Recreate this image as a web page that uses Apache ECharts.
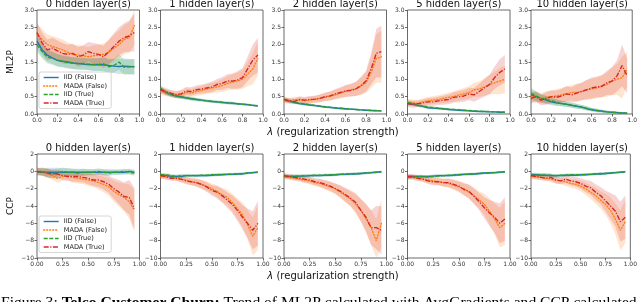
<!DOCTYPE html>
<html><head><meta charset="utf-8">
<script src="https://cdn.jsdelivr.net/npm/echarts@6/dist/echarts.min.js"></script>
<style>html,body{margin:0;padding:0;background:#fff}#c{width:640px;height:302px}</style>
</head><body><div id="c"></div><script>
// ---------- data ----------
const LAMBDA = [0,0.05,0.1,0.15,0.2,0.25,0.3,0.35,0.4,0.45,0.5,0.55,0.6,0.65,0.7,0.75,0.8,0.85,0.9,0.95];
const PANEL_TITLES = ['0 hidden layer(s)','1 hidden layer(s)','2 hidden layer(s)','5 hidden layer(s)','10 hidden layer(s)'];
const SERIES_NAMES = ['IID (False)','MADA (False)','IID (True)','MADA (True)'];
const ROW_LABELS = ['ML2P','CCP'];

// ML2P (top row), one array per panel
const ml2pIidFalse = [
 [2.10,1.85,1.70,1.62,1.55,1.52,1.50,1.47,1.46,1.44,1.43,1.42,1.43,1.42,1.40,1.38,1.37,1.38,1.37,1.36],
 [0.70,0.62,0.56,0.52,0.49,0.46,0.44,0.42,0.40,0.38,0.36,0.35,0.33,0.32,0.31,0.30,0.28,0.27,0.25,0.23],
 [0.40,0.37,0.33,0.30,0.28,0.26,0.24,0.22,0.20,0.19,0.17,0.16,0.15,0.14,0.13,0.12,0.11,0.10,0.09,0.09],
 [0.30,0.28,0.25,0.22,0.18,0.17,0.16,0.15,0.13,0.12,0.11,0.10,0.09,0.08,0.07,0.07,0.06,0.06,0.05,0.05],
 [0.55,0.50,0.45,0.40,0.35,0.32,0.30,0.28,0.25,0.22,0.20,0.16,0.12,0.10,0.08,0.06,0.05,0.04,0.03,0.02]];
const ml2pMadaFalse = [
 [2.30,2.15,2.00,1.95,1.90,1.85,1.78,1.72,1.70,1.68,1.65,1.68,1.70,1.72,1.78,1.90,2.00,2.15,2.20,2.55],
 [0.65,0.62,0.58,0.55,0.55,0.62,0.60,0.65,0.68,0.72,0.75,0.78,0.82,0.88,0.92,0.95,1.00,1.15,1.30,1.60],
 [0.40,0.38,0.42,0.40,0.38,0.40,0.42,0.45,0.48,0.52,0.55,0.60,0.65,0.70,0.72,0.80,0.90,1.20,1.60,1.65],
 [0.35,0.32,0.30,0.35,0.38,0.40,0.42,0.45,0.48,0.50,0.55,0.58,0.62,0.70,0.72,0.78,0.85,0.90,0.95,1.00],
 [0.50,0.48,0.45,0.48,0.50,0.52,0.55,0.58,0.62,0.62,0.65,0.70,0.72,0.75,0.80,0.85,0.95,1.00,1.05,1.30]];
const ml2pIidTrue = [
 [2.00,1.80,1.65,1.60,1.55,1.52,1.48,1.47,1.45,1.46,1.44,1.43,1.42,1.45,1.36,1.40,1.50,1.35,1.36,1.37],
 [0.75,0.63,0.57,0.53,0.50,0.47,0.44,0.42,0.40,0.38,0.37,0.35,0.34,0.32,0.31,0.29,0.28,0.27,0.25,0.24],
 [0.42,0.38,0.34,0.31,0.29,0.27,0.25,0.23,0.21,0.19,0.18,0.17,0.15,0.14,0.13,0.12,0.11,0.10,0.10,0.09],
 [0.33,0.30,0.26,0.22,0.20,0.18,0.17,0.15,0.14,0.13,0.12,0.11,0.10,0.09,0.08,0.07,0.07,0.06,0.06,0.05],
 [0.60,0.52,0.45,0.42,0.38,0.34,0.30,0.28,0.26,0.23,0.20,0.16,0.13,0.10,0.08,0.06,0.05,0.04,0.03,0.02]];
const ml2pMadaTrue = [
 [2.35,2.05,1.85,1.90,1.82,1.75,1.72,1.75,1.65,1.70,1.80,1.75,1.72,1.65,1.80,1.95,2.10,2.20,2.25,2.35],
 [0.70,0.65,0.60,0.56,0.58,0.66,0.65,0.70,0.72,0.75,0.78,0.85,0.88,0.95,0.95,0.98,1.05,1.30,1.55,1.70],
 [0.42,0.38,0.36,0.42,0.40,0.42,0.43,0.45,0.50,0.52,0.58,0.62,0.67,0.68,0.72,0.82,0.95,1.30,1.75,1.80],
 [0.30,0.28,0.30,0.32,0.35,0.35,0.38,0.40,0.42,0.48,0.50,0.52,0.58,0.55,0.65,0.75,0.85,1.05,1.20,1.30],
 [0.45,0.50,0.40,0.45,0.50,0.48,0.52,0.58,0.55,0.60,0.65,0.70,0.75,0.78,0.80,0.90,0.95,1.10,1.40,1.10]];
const ml2pIidStd = [
 [0.22,0.20,0.19,0.18,0.18,0.17,0.17,0.17,0.17,0.17,0.17,0.18,0.18,0.20,0.20,0.20,0.22,0.22,0.22,0.22],
 [0.08,0.07,0.06,0.06,0.05,0.05,0.05,0.05,0.04,0.04,0.04,0.04,0.04,0.04,0.04,0.03,0.03,0.03,0.03,0.03],
 [0.05,0.05,0.04,0.04,0.04,0.04,0.03,0.03,0.03,0.03,0.03,0.03,0.03,0.02,0.02,0.02,0.02,0.02,0.02,0.02],
 [0.06,0.05,0.05,0.04,0.04,0.04,0.03,0.03,0.03,0.03,0.03,0.03,0.02,0.02,0.02,0.02,0.02,0.02,0.02,0.02],
 [0.15,0.14,0.12,0.11,0.10,0.09,0.08,0.08,0.07,0.07,0.06,0.06,0.05,0.05,0.04,0.04,0.03,0.03,0.03,0.03]];
const ml2pMadaStd = [
 [0.30,0.30,0.30,0.30,0.30,0.30,0.28,0.28,0.28,0.28,0.28,0.30,0.30,0.32,0.35,0.38,0.40,0.42,0.45,0.55],
 [0.10,0.10,0.10,0.10,0.12,0.12,0.12,0.12,0.13,0.14,0.15,0.16,0.18,0.20,0.22,0.25,0.28,0.35,0.45,0.50],
 [0.08,0.08,0.08,0.09,0.09,0.10,0.10,0.11,0.12,0.13,0.14,0.15,0.17,0.18,0.20,0.25,0.30,0.45,0.70,0.75],
 [0.10,0.10,0.10,0.10,0.11,0.12,0.12,0.13,0.14,0.15,0.16,0.17,0.18,0.20,0.22,0.25,0.28,0.32,0.38,0.40],
 [0.15,0.15,0.15,0.18,0.18,0.20,0.20,0.22,0.22,0.25,0.25,0.28,0.30,0.30,0.32,0.35,0.40,0.45,0.60,0.50]];

// CCP (bottom row)
const ccpIidFalse = [
 [0.0,-0.1,-0.1,-0.1,-0.1,-0.1,-0.1,-0.1,-0.1,-0.1,-0.1,-0.1,-0.1,-0.1,-0.1,-0.1,-0.1,-0.1,0.0,-0.1],
 [-0.5,-0.5,-0.6,-0.6,-0.6,-0.5,-0.5,-0.5,-0.5,-0.5,-0.45,-0.4,-0.4,-0.35,-0.35,-0.3,-0.3,-0.2,-0.15,-0.1],
 [-0.6,-0.6,-0.6,-0.55,-0.55,-0.5,-0.5,-0.5,-0.45,-0.45,-0.4,-0.35,-0.35,-0.3,-0.3,-0.25,-0.2,-0.15,-0.1,-0.05],
 [-0.6,-0.6,-0.6,-0.6,-0.6,-0.55,-0.5,-0.5,-0.5,-0.45,-0.4,-0.35,-0.3,-0.3,-0.25,-0.2,-0.2,-0.15,-0.1,-0.05],
 [-0.4,-0.4,-0.45,-0.45,-0.5,-0.5,-0.5,-0.45,-0.45,-0.45,-0.4,-0.4,-0.35,-0.3,-0.3,-0.25,-0.2,-0.15,-0.1,-0.05]];
const ccpMadaFalse = [
 [0.0,0.0,-0.2,-0.5,-0.8,-0.6,-0.5,-0.7,-0.8,-0.9,-1.0,-1.1,-1.3,-1.5,-1.8,-2.3,-2.7,-3.0,-3.5,-4.5],
 [-0.6,-0.6,-0.7,-0.8,-0.9,-1.0,-1.2,-1.3,-1.5,-1.7,-2.0,-2.3,-2.7,-3.0,-3.6,-4.3,-5.0,-6.2,-7.5,-6.5],
 [-0.6,-0.7,-0.8,-0.9,-1.0,-1.1,-1.3,-1.4,-1.6,-1.8,-2.0,-2.4,-2.8,-3.2,-3.8,-4.5,-5.5,-6.5,-8.0,-6.0],
 [-0.7,-0.7,-0.8,-0.9,-1.0,-1.1,-1.2,-1.3,-1.4,-1.6,-1.8,-2.0,-2.4,-2.8,-3.3,-3.8,-4.6,-5.5,-6.5,-6.0],
 [-0.6,-0.6,-0.7,-0.8,-0.9,-1.0,-1.1,-1.2,-1.4,-1.5,-1.7,-2.0,-2.4,-2.8,-3.3,-3.8,-4.5,-5.5,-6.8,-5.8]];
const ccpIidTrue = [
 [-0.1,0.0,-0.2,-0.3,-0.2,0.0,-0.1,-0.1,-0.2,-0.1,-0.1,-0.1,0.0,-0.1,-0.2,-0.1,-0.1,0.0,-0.1,-0.2],
 [-0.4,-0.4,-0.5,-0.6,-0.5,-0.5,-0.5,-0.5,-0.45,-0.45,-0.4,-0.4,-0.35,-0.35,-0.3,-0.3,-0.25,-0.2,-0.15,-0.1],
 [-0.55,-0.6,-0.55,-0.55,-0.5,-0.5,-0.45,-0.45,-0.45,-0.4,-0.4,-0.35,-0.3,-0.3,-0.25,-0.25,-0.2,-0.15,-0.1,-0.05],
 [-0.7,-0.65,-0.6,-0.6,-0.65,-0.6,-0.55,-0.5,-0.45,-0.45,-0.4,-0.35,-0.35,-0.3,-0.25,-0.2,-0.15,-0.15,-0.1,-0.05],
 [-0.45,-0.45,-0.4,-0.45,-0.45,-0.5,-0.45,-0.45,-0.4,-0.4,-0.4,-0.35,-0.35,-0.3,-0.25,-0.25,-0.2,-0.15,-0.1,-0.05]];
const ccpMadaTrue = [
 [0.0,-0.1,-0.2,-0.3,-0.3,-0.5,-0.6,-0.6,-0.6,-0.7,-0.8,-1.0,-1.0,-1.2,-1.5,-2.0,-2.4,-2.9,-3.0,-4.3],
 [-0.5,-0.6,-0.8,-0.8,-0.9,-1.1,-1.2,-1.3,-1.5,-1.8,-2.2,-2.4,-2.8,-3.3,-3.8,-4.5,-5.3,-6.0,-6.8,-6.0],
 [-0.5,-0.6,-0.7,-0.8,-0.9,-1.0,-1.2,-1.3,-1.5,-1.7,-2.0,-2.3,-2.7,-3.1,-3.6,-4.5,-5.3,-6.5,-6.5,-6.8],
 [-0.6,-0.6,-0.8,-0.9,-1.1,-1.2,-1.2,-1.3,-1.3,-1.5,-1.7,-2.1,-2.3,-2.9,-3.5,-4.2,-4.8,-5.3,-6.0,-5.5],
 [-0.5,-0.6,-0.7,-0.8,-0.7,-1.0,-1.1,-0.9,-1.1,-1.2,-1.4,-1.7,-1.9,-2.4,-2.8,-3.4,-4.0,-4.6,-5.8,-5.3]];
const ccpIidStd = [
 [0.40,0.45,0.50,0.50,0.50,0.45,0.45,0.40,0.40,0.40,0.35,0.35,0.35,0.35,0.35,0.30,0.30,0.30,0.30,0.30],
 [0.20,0.20,0.20,0.20,0.20,0.18,0.18,0.18,0.18,0.16,0.16,0.16,0.15,0.15,0.15,0.14,0.14,0.13,0.12,0.12],
 [0.20,0.20,0.20,0.18,0.18,0.18,0.18,0.16,0.16,0.16,0.15,0.15,0.15,0.14,0.14,0.13,0.13,0.12,0.12,0.12],
 [0.20,0.20,0.20,0.18,0.18,0.18,0.18,0.16,0.16,0.16,0.15,0.15,0.15,0.14,0.14,0.13,0.13,0.12,0.12,0.12],
 [0.25,0.25,0.22,0.22,0.20,0.20,0.18,0.18,0.18,0.16,0.16,0.15,0.15,0.14,0.14,0.13,0.13,0.12,0.12,0.12]];
const ccpMadaStd = [
 [0.40,0.40,0.50,0.50,0.50,0.50,0.50,0.60,0.60,0.60,0.70,0.70,0.80,0.90,1.00,1.20,1.40,1.60,2.00,2.40],
 [0.30,0.30,0.30,0.30,0.35,0.40,0.40,0.45,0.50,0.55,0.60,0.70,0.80,0.90,1.00,1.20,1.40,1.70,2.20,2.60],
 [0.30,0.30,0.30,0.30,0.35,0.40,0.40,0.45,0.50,0.55,0.60,0.70,0.80,0.90,1.10,1.30,1.60,2.00,2.50,2.80],
 [0.30,0.30,0.30,0.30,0.35,0.40,0.40,0.45,0.50,0.55,0.60,0.70,0.80,0.90,1.00,1.20,1.50,1.80,2.30,2.50],
 [0.30,0.30,0.30,0.30,0.35,0.40,0.40,0.45,0.50,0.55,0.60,0.70,0.80,0.90,1.00,1.20,1.50,1.80,2.30,2.50]];

// ---------- layout / style ----------
const GRID_LEFT = [37, 160.5, 284, 407.5, 531];
const GRID_W = 102.5, GRID_H = 104;
const ROW_TOP = [10, 154];
const COLORS = ['#1f77b4','#ff7f0e','#2ca02c','#d62728'];
const BANDS = ['rgba(31,119,180,0.2)','rgba(255,127,14,0.2)','rgba(44,160,44,0.2)','rgba(214,39,40,0.2)'];
const DASH = ['solid',[1,2],[4,1.6],[5,1.5,1.2,1.5]];
const FONT = 'DejaVu Sans';

const rows = [
  {mean:[ml2pIidFalse, ml2pMadaFalse, ml2pIidTrue, ml2pMadaTrue], std:[ml2pIidStd, ml2pMadaStd, ml2pIidStd, ml2pMadaStd],
   ymin:0, ymax:3, yint:0.5, xint:0.2, xdec:1, ydec:1},
  {mean:[ccpIidFalse, ccpMadaFalse, ccpIidTrue, ccpMadaTrue], std:[ccpIidStd, ccpMadaStd, ccpIidStd, ccpMadaStd],
   ymin:-10, ymax:2, yint:2, xint:0.25, xdec:2, ydec:0}
];

const grid=[], xAxis=[], yAxis=[], series=[], graphic=[];
const minus = s => String(s).replace('-', '\u2212');

rows.forEach((row, r) => {
  for (let p = 0; p < 5; p++) {
    const gi = r*5 + p;
    grid.push({left:GRID_LEFT[p], top:ROW_TOP[r], width:GRID_W, height:GRID_H, show:true,
      borderColor:'#444', borderWidth:0.8, backgroundColor:'transparent'});
    const tick = {show:true, length:2.5, lineStyle:{color:'#444', width:0.8}};
    xAxis.push({gridIndex:gi, type:'value', min:0, max:1, interval:row.xint, position:'bottom',
      axisLine:{show:false, onZero:false}, axisTick:tick, splitLine:{show:false},
      axisLabel:{fontSize:6, fontFamily:FONT, color:'#333', margin:3, formatter:v=>v.toFixed(row.xdec)}});
    yAxis.push({gridIndex:gi, type:'value', min:row.ymin, max:row.ymax, interval:row.yint, position:'left',
      axisLine:{show:false, onZero:false}, axisTick:tick, splitLine:{show:false},
      axisLabel:{fontSize:6, fontFamily:FONT, color:'#333', margin:3, formatter:v=>minus(v.toFixed(row.ydec))}});
    // bands
    for (let s = 0; s < 4; s++) {
      const m = row.mean[s][p], sd = row.std[s][p];
      series.push({type:'custom', xAxisIndex:gi, yAxisIndex:gi, silent:true, z:1, clip:true,
        data: LAMBDA.map((x,i)=>[x, m[i]-sd[i], m[i]+sd[i]]),
        renderItem:(params, api) => {
          if (params.dataIndex !== 0) return null;
          const cs = params.coordSys;
          const clamp = pt => [pt[0], Math.max(cs.y, Math.min(cs.y+cs.height, pt[1]))];
          const up=[], lo=[];
          for (let i=0;i<LAMBDA.length;i++){
            up.push(clamp(api.coord([LAMBDA[i], m[i]+sd[i]])));
            lo.push(clamp(api.coord([LAMBDA[i], m[i]-sd[i]])));
          }
          return {type:'polygon', shape:{points:up.concat(lo.reverse())}, style:{fill:BANDS[s]}};
        }});
    }
    // lines
    for (let s = 0; s < 4; s++) {
      const m = row.mean[s][p];
      series.push({type:'line', name:SERIES_NAMES[s], xAxisIndex:gi, yAxisIndex:gi, z:3+s,
        data: LAMBDA.map((x,i)=>[x, m[i]]), symbol:'none', showSymbol:false, animation:false,
        color:COLORS[s],
        lineStyle:{color:COLORS[s], width:1.4, type:DASH[s], cap: s===1 ? 'round':'butt'}});
    }
    graphic.push({type:'text', x:GRID_LEFT[p]+GRID_W/2, y:ROW_TOP[r]-5.5,
      style:{text:PANEL_TITLES[p], font:`10px "${FONT}"`, fill:'#111', textAlign:'center', textVerticalAlign:'middle'}});
  }
  graphic.push({type:'text', x:10.5, y:ROW_TOP[r]+GRID_H/2, rotation:Math.PI/2,
    style:{text:ROW_LABELS[r], font:`9px "${FONT}"`, fill:'#111', textAlign:'center', textVerticalAlign:'middle'}});
  graphic.push({type:'text', x:333, y:ROW_TOP[r]+122,
    style:{text:'{i|λ} (regularization strength)', fill:'#111', textAlign:'center', textVerticalAlign:'middle',
      rich:{i:{fontFamily:FONT, fontSize:10, fontStyle:'italic', fill:'#111'}}, fontFamily:FONT, fontSize:10}});
});

graphic.push({type:'text', x:1, y:302.5,
  style:{text:'{n|Figure 3: }{b|Telco Customer Churn:}{n| Trend of ML2P calculated with AvgGradients and CCP calculated}',
    textVerticalAlign:'middle',
    rich:{n:{fontFamily:'Liberation Serif', fontSize:15.6, fill:'#000'},
          b:{fontFamily:'Liberation Serif', fontSize:15.6, fontWeight:'bold', fill:'#000'}}}});

const legendBase = {orient:'vertical', left:39, data:SERIES_NAMES, itemWidth:15, itemHeight:8, itemGap:1.5,
  padding:[2,4,2,4], borderColor:'#ccc', borderWidth:0.8, borderRadius:2, backgroundColor:'rgba(255,255,255,0.8)',
  itemStyle:{opacity:0}, lineStyle:{width:1.4},
  textStyle:{fontSize:6.6, fontFamily:FONT, color:'#222'}, selectedMode:false, z:20};

const chart = echarts.init(document.getElementById('c'), null, {renderer:'canvas'});
chart.setOption({
  animation:false,
  grid, xAxis, yAxis, series, graphic,
  legend:[Object.assign({}, legendBase, {top:72}), Object.assign({}, legendBase, {top:216})]
});
</script></body></html>
